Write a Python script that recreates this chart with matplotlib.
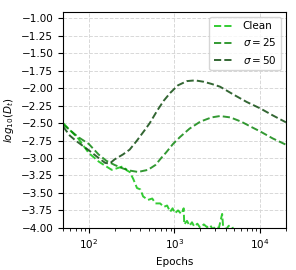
import numpy as np
import matplotlib.pyplot as plt

# epochs / log10(D_t)
ep_clean = [50, 60, 75, 100, 130, 150, 185, 210, 250, 280, 300, 330, 365, 400, 430, 490,
            550, 600, 680, 750, 820, 890, 950, 1010, 1100, 1200, 1280, 1300, 1400, 1500,
            1600, 1700, 1850, 2000, 2200, 2400, 2600, 2800, 3000, 3300, 3600, 3700, 4000,
            4300, 4700, 5000, 6000]
d_clean = [-2.50, -2.60, -2.72, -2.93, -3.05, -3.10, -3.17, -3.15, -3.12, -3.18, -3.20, -3.30,
           -3.43, -3.45, -3.55, -3.60, -3.58, -3.65, -3.65, -3.70, -3.68, -3.77, -3.72, -3.79,
           -3.75, -3.80, -3.72, -3.95, -3.90, -3.97, -3.92, -3.98, -3.94, -4.00, -3.95, -3.99,
           -3.96, -4.02, -3.98, -4.00, -3.80, -3.99, -4.02, -3.97, -3.98, -4.05, -4.10]

ep_s25 = [50, 60, 75, 100, 130, 160, 200, 250, 300, 375, 490, 600, 700, 800, 960, 1160,
          1500, 2000, 2700, 3400, 4500, 6000, 8000, 10000, 14000, 20000]
d_s25 = [-2.52, -2.60, -2.70, -2.80, -2.95, -3.04, -3.10, -3.15, -3.18, -3.20, -3.17, -3.10,
         -3.00, -2.92, -2.80, -2.70, -2.58, -2.48, -2.42, -2.40, -2.42, -2.48, -2.56, -2.62,
         -2.72, -2.81]

ep_s50 = [50, 60, 70, 100, 130, 155, 175, 200, 250, 300, 365, 450, 515, 630, 750, 890,
          1100, 1400, 1740, 2200, 2700, 3400, 5000, 7000, 10000, 14000, 20000]
d_s50 = [-2.55, -2.68, -2.75, -2.89, -3.00, -3.07, -3.08, -3.02, -2.95, -2.88, -2.75, -2.60,
         -2.50, -2.32, -2.18, -2.07, -1.96, -1.90, -1.89, -1.91, -1.94, -1.98, -2.10, -2.20,
         -2.29, -2.39, -2.49]

plt.rcParams['font.size'] = 7.5
fig = plt.figure(figsize=(2.96, 2.70), dpi=100)
ax = fig.add_axes([0.213, 0.156, 0.753, 0.80])

ax.plot(ep_clean, d_clean, '--', color='#00bf00', alpha=0.8, lw=1.4, label='Clean')
ax.plot(ep_s25, d_s25, '--', color='#008000', alpha=0.8, lw=1.4, label=r'$\sigma=25$')
ax.plot(ep_s50, d_s50, '--', color='#004000', alpha=0.8, lw=1.4, label=r'$\sigma=50$')

ax.set_xscale('log')
ax.set_xlim(50, 20000)
ax.set_ylim(-4.0, -0.91)
ax.set_yticks(np.arange(-4.0, -0.99, 0.25))
ax.grid(True, linestyle='--', color='#d8d8d8', lw=0.7)
ax.set_xlabel('Epochs')
ax.set_ylabel(r'$log_{10}(D_t)$')
ax.legend(loc='upper right')

fig.savefig('out.png', dpi=100)
